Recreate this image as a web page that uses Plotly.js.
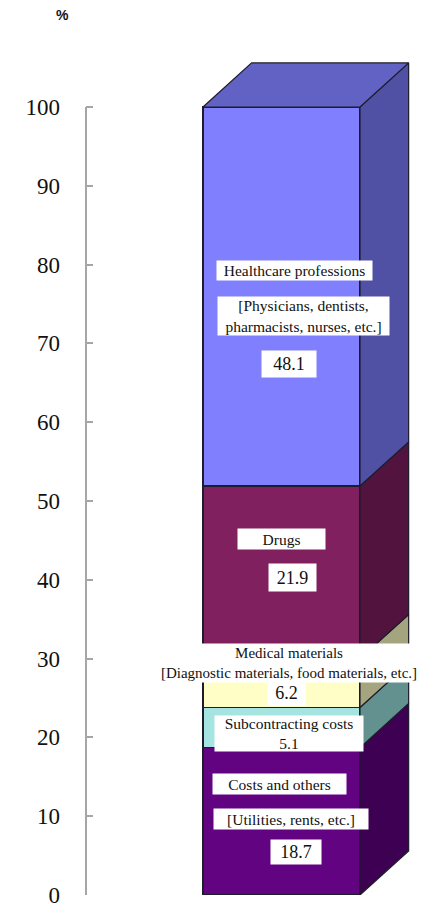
<!DOCTYPE html>
<html>
<head>
<meta charset="utf-8">
<script src="https://cdn.plot.ly/plotly-3.0.1.min.js"></script>
<style>
  html, body { margin: 0; padding: 0; background: #ffffff; }
  #chart { width: 437px; height: 908px; }
</style>
</head>
<body>
<div id="chart"></div>
<script>
// Breakdown of expenses, stacked bottom to top (%)
const categories = ['Costs and others', 'Subcontracting costs', 'Medical materials', 'Drugs', 'Healthcare professions'];
const details = ['[Utilities, rents, etc.]', '', '[Diagnostic materials, food materials, etc.]', '', '[Physicians, dentists,<br>pharmacists, nurses, etc.]'];
const values = [18.7, 5.1, 6.2, 21.9, 48.1];
const tickValues = [0, 10, 20, 30, 40, 50, 60, 70, 80, 90, 100];

// Face colours: front, side
const frontColors = ['#620482', '#a6e4e2', '#fefec6', '#80205e', '#8080fe'];
const sideColors = ['#3e0052', '#629190', '#a4a47e', '#52143e', '#5050a4'];
const topFaceColor = '#6262c4';
const edgeColor = '#1c1c2c';

// Pseudo-3D depth of the column, in axis units
const DX = 0.31;
const DY = 5.6;
const BAR_X = 0.5, BAR_W = 1;

const bottoms = [];
const tops = [];
let acc = 0;
values.forEach(v => { bottoms.push(acc); acc = +(acc + v).toFixed(1); tops.push(acc); });

const traces = [];

// Front faces as a stacked bar column
values.forEach((v, i) => {
  traces.push({
    type: 'bar', x: [BAR_X], y: [v], width: BAR_W,
    marker: { color: frontColors[i], line: { color: edgeColor, width: 1.5 } },
    hoverinfo: 'skip', showlegend: false
  });
});

// Side faces (parallelograms to the right of each segment)
const xRight = BAR_X + BAR_W / 2;
values.forEach((v, i) => {
  const b = bottoms[i], t = tops[i];
  traces.push({
    type: 'scatter', mode: 'lines', fill: 'toself',
    x: [xRight, xRight + DX, xRight + DX, xRight, xRight],
    y: [b, b + DY, t + DY, t, b],
    fillcolor: sideColors[i],
    line: { color: edgeColor, width: 1.2 },
    hoverinfo: 'skip', showlegend: false
  });
});

// Top face of the column
const xLeft = BAR_X - BAR_W / 2;
const columnTop = tops[tops.length - 1];
traces.push({
  type: 'scatter', mode: 'lines', fill: 'toself',
  x: [xLeft, xLeft + DX, xRight + DX, xRight, xLeft],
  y: [columnTop, columnTop + DY, columnTop + DY, columnTop, columnTop],
  fillcolor: topFaceColor,
  line: { color: edgeColor, width: 1.2 },
  hoverinfo: 'skip', showlegend: false
});

// White label boxes
const serif = 'Liberation Serif, Times New Roman, serif';
function box(text, x, y, w, h, size) {
  return {
    text: text, x: x, y: y, xref: 'x', yref: 'y', showarrow: false,
    bgcolor: '#ffffff', borderpad: 0, width: w, height: h,
    font: { family: serif, size: size || 15.5, color: '#111111' },
    align: 'center', valign: 'middle'
  };
}

const annotations = [
  // Healthcare professions
  box(categories[4], 0.58, 79.2, 155, 19),
  box(details[4], 0.64, 73.5, 171, 38),
  box(values[4].toFixed(1), 0.55, 67.4, 54, 26, 18),
  // Drugs
  box(categories[3], 0.50, 45.2, 87, 20),
  box(values[3].toFixed(1), 0.57, 40.3, 47, 27, 18),
  // Medical materials (value box first so the two-line box sits above it)
  box(values[2].toFixed(1), 0.535, 25.6, 37, 24, 18),
  box(categories[2] + '<br>' + details[2], 0.55, 29.5, 290, 38, 15),
  // Subcontracting costs
  box(categories[1] + '<br>' + values[1].toFixed(1), 0.55, 20.5, 148, 35),
  // Costs and others
  box(categories[0], 0.49, 14.1, 133, 20),
  box(details[0], 0.56, 9.7, 154, 20),
  box(values[0].toFixed(1), 0.59, 5.4, 50, 24, 18),
  // Unit label
  {
    text: '%', xref: 'paper', yref: 'paper', x: -0.093, y: 1.06,
    showarrow: false,
    font: { family: 'Liberation Sans, Arial, sans-serif', size: 14, color: '#111111', weight: 'bold' }
  }
];

const layout = {
  width: 437, height: 908,
  margin: { l: 86, r: 7, t: 55, b: 13 },
  paper_bgcolor: '#ffffff', plot_bgcolor: 'rgba(0,0,0,0)',
  barmode: 'stack',
  showlegend: false,
  xaxis: { range: [-0.745, 1.446], visible: false, fixedrange: true },
  yaxis: {
    range: [0, 106.6],
    tickmode: 'array', tickvals: tickValues,
    ticks: 'inside', ticklen: 7, tickwidth: 2, tickcolor: '#a6a6a6',
    showline: false, showgrid: false, zeroline: false,
    ticklabelstandoff: 25,
    ticklabeloverflow: 'allow',
    tickfont: { family: serif, size: 23, color: '#111111' },
    fixedrange: true
  },
  shapes: [
    // Vertical axis line spanning only the 0–100 scale
    { type: 'line', xref: 'paper', yref: 'y', x0: 0, x1: 0, y0: 0, y1: 100,
      line: { color: '#a6a6a6', width: 2 } }
  ],
  annotations: annotations
};

Plotly.newPlot('chart', traces, layout, { displayModeBar: false, staticPlot: true });
</script>
</body>
</html>
